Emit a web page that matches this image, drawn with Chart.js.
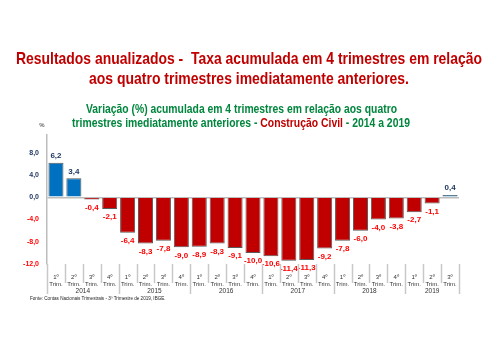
<!DOCTYPE html>
<html lang="pt">
<head>
  <meta charset="UTF-8">
  <title>Construção Civil - taxa acumulada em 4 trimestres</title>
  <script src="https://cdn.jsdelivr.net/npm/chart.js"></script>
  <style>
    html, body { margin: 0; padding: 0; background: #fff; }
    #wrap { position: relative; width: 500px; height: 351px; }
  </style>
</head>
<body>
  <div id="wrap"><canvas id="chart" width="500" height="351"></canvas></div>

  <script>
    const quarters = ['1º', '2º', '3º', '4º', '1º', '2º', '3º', '4º', '1º', '2º', '3º', '4º',
                      '1º', '2º', '3º', '4º', '1º', '2º', '3º', '4º', '1º', '2º', '3º'];
    const years = ['2014', '2015', '2016', '2017', '2018', '2019'];
    const quartersPerYear = [4, 4, 4, 4, 4, 3];
    const values = [6.2, 3.4, -0.4, -2.1, -6.4, -8.3, -7.8, -9.0, -8.9, -8.3, -9.1, -10.0,
                    -10.6, -11.4, -11.3, -9.2, -7.8, -6.0, -4.0, -3.8, -2.7, -1.1, 0.4];

    const RED = '#C00000';
    const BLUE = '#0070C0';
    const NAVY = '#1F3864';
    const LABEL_RED = '#FF0000';
    const GREEN = '#00863D';

    const fmt = v => v.toFixed(1).replace('.', ',');

    // titles, data labels, category separators, year row and source line
    const decor = {
      id: 'decor',
      afterDraw(chart) {
        const ctx = chart.ctx;
        const x = chart.scales.x;
        const y = chart.scales.y;
        const area = chart.chartArea;
        ctx.save();

        // main title
        ctx.fillStyle = RED;
        ctx.textAlign = 'center';
        ctx.textBaseline = 'middle';
        const fitText = (txt, cx, cy, w, font) => {
          ctx.font = font;
          const m = ctx.measureText(txt).width;
          ctx.save();
          ctx.translate(cx, cy);
          ctx.scale(w / m, 1);
          ctx.fillText(txt, 0, 0);
          ctx.restore();
        };
        fitText('Resultados anualizados -  Taxa acumulada em 4 trimestres em relação', 249, 59, 466, 'bold 17px "Liberation Sans"');
        fitText('aos quatro trimestres imediatamente anteriores.', 249, 79, 320, 'bold 17px "Liberation Sans"');

        // subtitle
        ctx.fillStyle = GREEN;
        fitText('Variação (%) acumulada em 4 trimestres em relação aos quatro', 241.5, 110, 311, 'bold 12px "Liberation Sans"');
        const parts = [
          ['trimestres imediatamente anteriores - ', GREEN],
          ['Construção Civil', RED],
          [' - 2014 a 2019', GREEN]
        ];
        ctx.font = 'bold 12px "Liberation Sans"';
        const total = parts.reduce((s, p) => s + ctx.measureText(p[0]).width, 0);
        const sx = 338 / total;
        ctx.save();
        ctx.translate(72, 124);
        ctx.scale(sx, 1);
        ctx.textAlign = 'left';
        let px = 0;
        parts.forEach(p => {
          ctx.fillStyle = p[1];
          ctx.fillText(p[0], px, 0);
          px += ctx.measureText(p[0]).width;
        });
        ctx.restore();

        // % unit
        ctx.fillStyle = '#666';
        ctx.font = 'bold 6px "Liberation Sans"';
        ctx.fillText('%', 42, 125);

        // data labels
        ctx.font = 'bold 8px "Liberation Sans"';
        const meta = chart.getDatasetMeta(0);
        meta.data.forEach((bar, i) => {
          const v = values[i];
          ctx.fillStyle = v >= 0 ? NAVY : LABEL_RED;
          const ty = v >= 0 ? bar.y - 7 : bar.y + 8;
          ctx.fillText(fmt(v), bar.x, ty);
        });

        // category separators
        const step = x.getPixelForValue(1) - x.getPixelForValue(0);
        ctx.strokeStyle = '#C8C8C8';
        ctx.lineWidth = 1.5;
        let idx = 0;
        const bounds = [0];
        quartersPerYear.forEach(n => { idx += n; bounds.push(idx); });
        for (let i = 0; i <= values.length; i++) {
          const lx = Math.round(x.getPixelForValue(0) - step / 2 + i * step) + 0.5;
          const isYear = bounds.includes(i);
          ctx.beginPath();
          ctx.moveTo(lx, area.bottom);
          ctx.lineTo(lx, area.bottom + (isYear ? 30 : 19));
          ctx.stroke();
        }

        // year labels
        ctx.fillStyle = '#333';
        ctx.font = '6.5px "Liberation Sans"';
        years.forEach((yr, k) => {
          const a = bounds[k], b = bounds[k + 1];
          const cx = x.getPixelForValue(0) + ((a + b - 1) / 2) * step;
          ctx.fillText(yr, cx, area.bottom + 27);
        });

        // source
        ctx.textAlign = 'left';
        ctx.font = '4.6px "Liberation Sans"';
        ctx.fillStyle = '#222';
        ctx.fillText('Fonte: Contas Nacionais Trimestrais - 3º Trimestre de 2019, IBGE.', 30, 299);

        ctx.restore();
      }
    };

    new Chart(document.getElementById('chart'), {
      type: 'bar',
      data: {
        labels: quarters.map(q => [q, 'Trim.']),
        datasets: [{
          data: values,
          backgroundColor: values.map(v => v >= 0 ? BLUE : RED),
          borderColor: '#5A5A5A',
          borderWidth: 1,
          barPercentage: 0.84,
          categoryPercentage: 1
        }]
      },
      options: {
        responsive: false,
        animation: false,
        layout: { padding: { top: 135, left: 0, right: 41, bottom: 51 } },
        plugins: {
          legend: { display: false },
          tooltip: { enabled: false }
        },
        scales: {
          x: {
            grid: { display: false },
            border: { display: false },
            afterFit: s => { s.height = 36; },
            ticks: {
              autoSkip: false,
              maxRotation: 0,
              padding: 2,
              color: '#333',
              font: { family: '"Liberation Sans"', size: 6 }
            }
          },
          y: {
            min: -12,
            max: 11.2,
            afterFit: s => { s.width = 47; },
            border: { display: true, color: '#BDBDBD', width: 1.5 },
            grid: {
              drawTicks: false,
              color: c => c.tick && c.tick.value === 0 ? '#BDBDBD' : 'rgba(0,0,0,0)',
              lineWidth: 1.5
            },
            ticks: {
              stepSize: 4,
              padding: 8,
              callback: v => (v % 4 === 0 ? fmt(v) : ''),
              color: c => c.tick && c.tick.value < 0 ? LABEL_RED : NAVY,
              font: { family: '"Liberation Sans"', size: 7, weight: 'bold' }
            }
          }
        }
      },
      plugins: [decor]
    });
  </script>
</body>
</html>
